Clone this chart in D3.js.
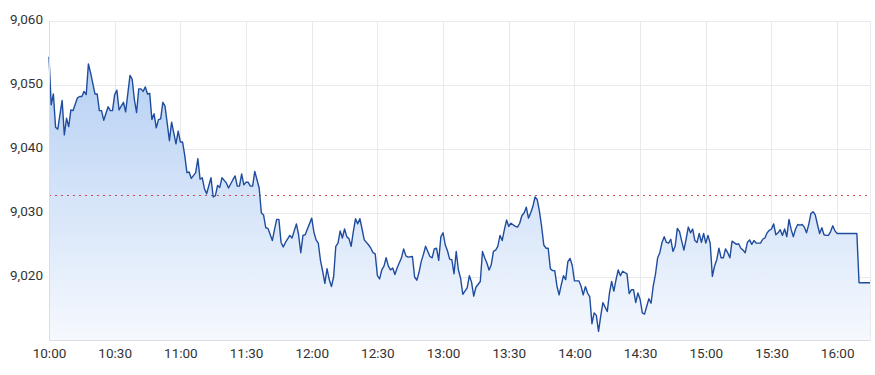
<!DOCTYPE html>
<html>
<head>
<meta charset="utf-8">
<script src="https://cdn.jsdelivr.net/npm/d3@7"></script>
<style>
  body { margin: 0; background: #fff; }
  text { font-family: Roboto, "Liberation Sans", sans-serif; }
</style>
</head>
<body>
<div id="chart"></div>
<script>
// Dimensiones
const width = 875;
const height = 375;
const margin = { top: 21, right: 5, bottom: 34, left: 49 };

// Datos: minutos desde las 10:00 y precio
const minutes = [
  0, 1, 2, 3, 4, 6, 7, 8, 9, 10, 11, 13, 14, 15, 16, 17, 18, 19, 21, 22,
  23, 24, 25, 27, 28, 29, 30, 31, 32, 34, 35, 37, 38, 39, 40, 41, 42, 43, 44, 45,
  46, 47, 48, 49, 50, 51, 52, 53, 55, 56, 58, 59, 60, 61, 62, 63, 64, 65, 67, 68,
  69, 70, 71, 72, 74, 75, 76, 77, 78, 79, 81, 82, 84, 85, 86, 87, 88, 89, 90, 91,
  92, 93, 94, 96, 97, 98, 99, 100, 102, 103, 104, 105, 106, 107, 108, 110, 111, 113, 114, 115,
  116, 117, 120, 121, 122, 123, 124, 125, 126, 127, 128, 129, 130, 131, 132, 133, 134, 135, 136, 137,
  138, 139, 140, 141, 142, 143, 144, 146, 147, 148, 149, 150, 151, 152, 153, 154, 155, 156, 157, 158,
  159, 161, 162, 163, 164, 166, 167, 168, 169, 170, 171, 172, 174, 175, 176, 177, 178, 179, 180, 181,
  182, 183, 184, 185, 186, 187, 188, 189, 191, 192, 193, 194, 195, 197, 198, 199, 200, 201, 202, 203,
  204, 205, 206, 207, 208, 209, 210, 211, 213, 214, 215, 216, 217, 218, 219, 220, 221, 222, 223, 224,
  225, 226, 227, 228, 229, 230, 231, 232, 233, 234, 235, 236, 237, 238, 239, 240, 242, 243, 244, 245,
  246, 247, 248, 249, 250, 251, 252, 253, 255, 256, 257, 258, 259, 260, 261, 262, 264, 265, 266, 267,
  268, 269, 270, 271, 272, 273, 274, 275, 276, 277, 278, 279, 280, 281, 282, 283, 284, 285, 286, 287,
  288, 289, 290, 291, 292, 293, 294, 295, 296, 297, 298, 299, 300, 301, 302, 303, 304, 305, 306, 307,
  308, 309, 310, 311, 312, 314, 315, 316, 317, 318, 319, 320, 321, 322, 323, 325, 326, 327, 328, 329,
  330, 331, 332, 333, 334, 335, 336, 337, 338, 339, 340, 341, 342, 343, 344, 345, 346, 347, 348, 349,
  350, 351, 352, 353, 354, 355, 356, 357, 358, 359, 360, 369, 370, 375
];
const prices = [
  9054.4, 9046.9, 9048.6, 9043.4, 9043.1, 9047.6, 9042.2, 9044.8, 9043.5, 9046.1, 9046.0, 9048.0, 9048.2, 9048.2, 9049.0, 9048.5, 9053.3, 9051.9, 9048.6, 9048.6,
  9046.0, 9046.0, 9044.5, 9046.6, 9046.0, 9046.0, 9048.5, 9049.2, 9046.1, 9047.3, 9045.8, 9051.5, 9050.9, 9047.7, 9045.7, 9049.4, 9049.4, 9049.0, 9049.7, 9048.6,
  9048.7, 9044.6, 9045.5, 9043.3, 9044.6, 9044.7, 9047.3, 9046.7, 9041.3, 9044.2, 9040.8, 9042.8, 9041.1, 9041.1, 9039.0, 9036.3, 9036.4, 9035.4, 9036.3, 9038.5,
  9035.3, 9035.5, 9033.8, 9033.0, 9035.5, 9032.5, 9032.7, 9034.3, 9034.0, 9035.5, 9034.7, 9033.9, 9035.2, 9035.8, 9034.2, 9034.2, 9036.1, 9034.4, 9034.8, 9034.8,
  9034.2, 9034.2, 9036.5, 9033.9, 9030.0, 9029.7, 9027.7, 9027.6, 9025.7, 9027.4, 9029.0, 9029.0, 9025.4, 9024.7, 9025.4, 9026.5, 9026.1, 9028.3, 9026.6, 9023.8,
  9026.5, 9026.6, 9029.2, 9027.0, 9025.8, 9025.3, 9022.6, 9020.9, 9019.0, 9021.3, 9019.6, 9018.5, 9020.0, 9024.8, 9025.3, 9027.2, 9026.1, 9027.5, 9026.3, 9026.0,
  9024.8, 9027.1, 9029.1, 9028.3, 9029.1, 9027.5, 9025.8, 9025.0, 9024.5, 9023.8, 9023.6, 9020.2, 9019.7, 9021.1, 9021.7, 9023.0, 9021.7, 9021.1, 9021.4, 9020.4,
  9021.4, 9023.0, 9024.4, 9023.3, 9023.1, 9023.2, 9020.0, 9019.5, 9020.7, 9022.4, 9023.5, 9024.8, 9023.2, 9023.0, 9024.4, 9024.5, 9022.6, 9026.3, 9026.9, 9025.0,
  9024.1, 9022.8, 9022.7, 9020.5, 9024.0, 9021.1, 9019.8, 9017.3, 9018.3, 9020.2, 9019.2, 9017.0, 9018.4, 9019.3, 9024.0, 9023.0, 9022.2, 9021.1, 9021.9, 9024.0,
  9024.2, 9024.8, 9026.5, 9025.7, 9027.4, 9028.9, 9027.9, 9028.4, 9027.9, 9027.8, 9028.4, 9029.6, 9030.0, 9030.9, 9029.2, 9030.0, 9031.0, 9032.5, 9032.1, 9030.3,
  9027.9, 9025.0, 9024.5, 9024.5, 9021.3, 9021.0, 9021.0, 9018.6, 9017.2, 9018.8, 9020.2, 9019.6, 9022.4, 9022.9, 9021.8, 9019.4, 9019.4, 9018.6, 9017.2, 9018.5,
  9017.5, 9016.9, 9012.7, 9014.4, 9014.0, 9011.5, 9013.9, 9016.0, 9014.6, 9017.5, 9019.3, 9017.8, 9019.6, 9021.1, 9020.2, 9020.9, 9020.5, 9017.4, 9018.0, 9018.0,
  9016.0, 9017.5, 9016.5, 9014.4, 9014.2, 9015.4, 9016.6, 9015.9, 9018.6, 9020.4, 9023.0, 9023.8, 9025.4, 9026.3, 9025.4, 9025.3, 9025.9, 9024.0, 9024.8, 9027.6,
  9027.1, 9025.6, 9024.2, 9025.9, 9027.8, 9026.9, 9027.5, 9025.7, 9025.4, 9026.8, 9025.4, 9026.8, 9025.3, 9026.5, 9025.3, 9020.1, 9021.7, 9022.7, 9024.5, 9023.0,
  9023.0, 9024.4, 9023.8, 9023.0, 9025.6, 9025.1, 9025.2, 9024.5, 9024.2, 9023.8, 9025.4, 9025.8, 9025.1, 9025.7, 9025.3, 9025.3, 9025.9, 9026.1, 9026.9, 9027.3,
  9027.5, 9028.3, 9026.6, 9026.9, 9027.4, 9026.5, 9027.5, 9026.3, 9029.0, 9027.4, 9026.3, 9027.5, 9028.2, 9028.1, 9028.2, 9027.8, 9026.9, 9028.2, 9029.9, 9030.2,
  9029.7, 9028.2, 9026.8, 9027.7, 9026.6, 9026.5, 9026.5, 9027.1, 9028.0, 9027.2, 9026.8, 9026.8, 9019.1, 9019.1
];

// Cierre anterior (línea punteada)
const prevClose = 9032.85;

// Ejes
const yTicks = [9020, 9030, 9040, 9050, 9060];
const yDomain = [9010, 9060];
const sessionStart = new Date(2024, 0, 2, 10, 0);
const sessionEnd = new Date(2024, 0, 2, 16, 15);

const toDate = (m) => new Date(sessionStart.getTime() + m * 60000);
const data = minutes.map((m, i) => ({ date: toDate(m), price: prices[i] }));

const innerW = width - margin.left - margin.right;
const innerH = height - margin.top - margin.bottom;

const svg = d3
  .select("div#chart")
  .append("svg")
  .attr("width", width)
  .attr("height", height);

const x = d3.scaleTime().domain([sessionStart, sessionEnd]).range([0, innerW]);
const y = d3.scaleLinear().domain(yDomain).range([innerH, 0]);

const g = svg.append("g").attr("transform", `translate(${margin.left}, ${margin.top})`);

// Degradado del área
const defs = svg.append("defs");
const grad = defs
  .append("linearGradient")
  .attr("id", "areaGrad")
  .attr("x1", 0).attr("y1", 0).attr("x2", 0).attr("y2", 1);
grad.append("stop").attr("offset", "0%").attr("stop-color", "#b4cff3");
grad.append("stop").attr("offset", "100%").attr("stop-color", "#f6f9fe");

const xTicks = d3.range(0, 361, 30).map(toDate);

// Rejilla
g.append("g")
  .selectAll("line")
  .data(yTicks)
  .join("line")
  .attr("x1", 0)
  .attr("x2", innerW)
  .attr("y1", (d) => Math.round(y(d)) + 0.5)
  .attr("y2", (d) => Math.round(y(d)) + 0.5)
  .attr("stroke", "#e9e9ee");

g.append("g")
  .selectAll("line")
  .data(xTicks.concat([sessionEnd]))
  .join("line")
  .attr("x1", (d) => Math.round(x(d)) + 0.5)
  .attr("x2", (d) => Math.round(x(d)) + 0.5)
  .attr("y1", 0)
  .attr("y2", innerH)
  .attr("stroke", "#e9e9ee");

// Área y línea
const area = d3
  .area()
  .x((d) => x(d.date))
  .y0(innerH)
  .y1((d) => y(d.price));

const line = d3
  .line()
  .x((d) => x(d.date))
  .y((d) => y(d.price));

g.append("path").datum(data).attr("d", area).attr("fill", "url(#areaGrad)");

// Línea de cierre anterior
g.append("line")
  .attr("x1", 0)
  .attr("x2", innerW)
  .attr("y1", Math.round(y(prevClose)) + 0.5)
  .attr("y2", Math.round(y(prevClose)) + 0.5)
  .attr("stroke", "#c9504a")
  .attr("stroke-width", 1)
  .attr("stroke-dasharray", "2,4");

g.append("path")
  .datum(data)
  .attr("d", line)
  .attr("fill", "none")
  .attr("stroke", "#1f4c9e")
  .attr("stroke-width", 1.4)
  .attr("stroke-linejoin", "round");

// Ejes inferior e izquierdo
g.append("line")
  .attr("x1", 0).attr("x2", innerW)
  .attr("y1", innerH - 0.5).attr("y2", innerH - 0.5)
  .attr("stroke", "#dcdce2");
g.append("line")
  .attr("x1", 0.5).attr("x2", 0.5)
  .attr("y1", 0).attr("y2", innerH)
  .attr("stroke", "#dcdce2");

const xAxis = d3
  .axisBottom(x)
  .tickValues(xTicks)
  .tickFormat(d3.timeFormat("%H:%M"))
  .tickSize(0)
  .tickPadding(7);
const xAxisGroup = g.append("g").attr("transform", `translate(0, ${innerH})`).call(xAxis);
xAxisGroup.select(".domain").remove();
xAxisGroup.selectAll("text").attr("fill", "#333").style("font-size", "13.5px");

const yAxis = d3
  .axisLeft(y)
  .tickValues(yTicks)
  .tickFormat(d3.format(","))
  .tickSize(0)
  .tickPadding(6);
const yAxisGroup = g.append("g").call(yAxis);
yAxisGroup.select(".domain").remove();
yAxisGroup
  .selectAll("text")
  .attr("fill", "#333")
  .attr("dy", "0.15em")
  .style("font-size", "13.5px");
</script>
</body>
</html>
